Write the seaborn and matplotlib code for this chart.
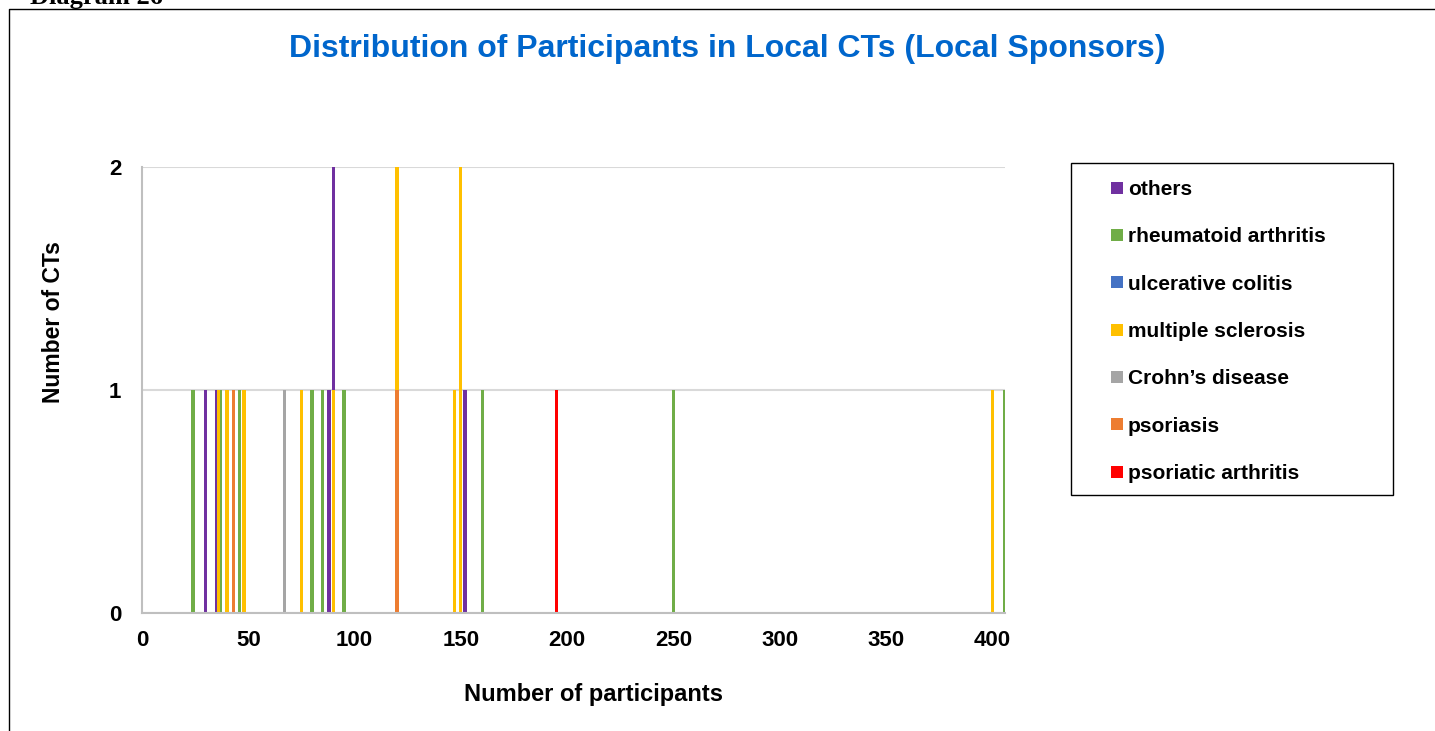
import matplotlib
matplotlib.use("Agg")
import matplotlib.pyplot as plt
from matplotlib.lines import Line2D
from matplotlib.patches import Rectangle
import pandas as pd
import seaborn as sns

# Series (number of participants -> number of CTs)
diseases = ["others", "rheumatoid arthritis", "ulcerative colitis",
            "multiple sclerosis", "Crohn\u2019s disease", "psoriasis",
            "psoriatic arthritis"]
colors = ["#7030a0", "#70ad47", "#4472c4", "#ffc000", "#a5a5a5", "#ed7d31", "#ff0000"]

others_x = [30, 35, 88, 90, 152]
others_n = [1, 1, 1, 2, 1]
ra_x = [24, 37, 46, 80, 85, 95, 160, 250, 406]
ra_n = [1, 1, 1, 1, 1, 1, 1, 1, 1]
uc_x = []
uc_n = []
ms_x = [36, 40, 48, 75, 90, 120, 147, 150, 400]
ms_n = [1, 1, 1, 1, 1, 2, 1, 2, 1]
crohn_x = [67]
crohn_n = [1]
pso_x = [43, 120]
pso_n = [1, 1]
psa_x = [195]
psa_n = [1]

series = [(others_x, others_n), (ra_x, ra_n), (uc_x, uc_n), (ms_x, ms_n),
          (crohn_x, crohn_n), (pso_x, pso_n), (psa_x, psa_n)]
rows = []
for name, (xs, ns) in zip(diseases, series):
    for x, n in zip(xs, ns):
        rows.append({"participants": x, "cts": n, "disease": name})
df = pd.DataFrame(rows)

sns.set_style("white")
plt.rcParams["font.family"] = ["Liberation Sans", "DejaVu Sans"]
plt.rcParams["font.weight"] = "bold"
plt.rcParams["text.color"] = "black"
plt.rcParams["xtick.color"] = "black"
plt.rcParams["ytick.color"] = "black"

W, H = 1435, 731
fig = plt.figure(figsize=(W / 100, H / 100), dpi=100)
ax = fig.add_axes([142 / W, 1 - 613 / H, (1005 - 142) / W, (613 - 167) / H])

present = [d for d in diseases if d in set(df["disease"])]
pal = {d: c for d, c in zip(diseases, colors)}
sns.barplot(data=df, x="participants", y="cts", hue="disease", hue_order=present,
            palette=pal, native_scale=True, dodge=False, width=1.5,
            errorbar=None, legend=False, ax=ax, linewidth=0, saturation=1)

ax.set_xlim(0, 406)
ax.set_ylim(0, 2)
ax.set_xticks(range(0, 401, 50))
ax.set_yticks([0, 1, 2])
ax.set_xlabel("")
ax.set_ylabel("")
ax.yaxis.grid(True, color="#d9d9d9", linewidth=1.5)
ax.set_axisbelow(True)
for s in ["top", "right"]:
    ax.spines[s].set_visible(False)
for s in ["left", "bottom"]:
    ax.spines[s].set_color("#bfbfbf")
    ax.spines[s].set_linewidth(1.5)
ax.tick_params(axis="x", length=0, pad=12, labelsize=16, labelcolor="black")
ax.tick_params(axis="y", length=0, pad=15, labelsize=16, labelcolor="black")
for lab in ax.get_xticklabels() + ax.get_yticklabels():
    lab.set_fontweight("bold")

fig.text(727 / W, 1 - 49 / H, "Distribution of Participants in Local CTs (Local Sponsors)",
         ha="center", va="center", fontsize=23, fontweight="bold", color="#0066cc")
fig.text(54 / W, 1 - 322 / H, "Number of CTs", rotation=90, ha="center", va="center",
         fontsize=16.5, fontweight="bold", color="black")
fig.text(593 / W, 1 - 695 / H, "Number of participants", ha="center", va="center",
         fontsize=17, fontweight="bold", color="black")

# legend box
fig.add_artist(Rectangle((1071 / W, 1 - 495 / H), (1393 - 1071) / W, (495 - 163) / H,
                         transform=fig.transFigure, fill=False, edgecolor="black",
                         linewidth=1))
handles = [Line2D([], [], marker="s", linestyle="", markersize=8.5,
                  markerfacecolor=c, markeredgewidth=0) for c in colors]
fig.legend(handles, diseases, loc="upper left", bbox_to_anchor=(1071 / W, 1 - 163 / H),
           frameon=False, borderaxespad=0, borderpad=0.82, handlelength=2.75,
           handletextpad=-0.84, labelspacing=1.36,
           prop={"family": "Liberation Sans", "weight": "bold", "size": 15})

# page frame and caption
fig.add_artist(Line2D([9 / W, 9 / W, 1], [0, 1 - 9 / H, 1 - 9 / H],
                      transform=fig.transFigure, color="black", linewidth=1))
fig.text(30 / W, 1 - 4 / H, "Diagram 26", ha="left", va="baseline",
         fontsize=19, fontweight="bold", family="Liberation Serif")

fig.savefig("out.png", dpi=100)
